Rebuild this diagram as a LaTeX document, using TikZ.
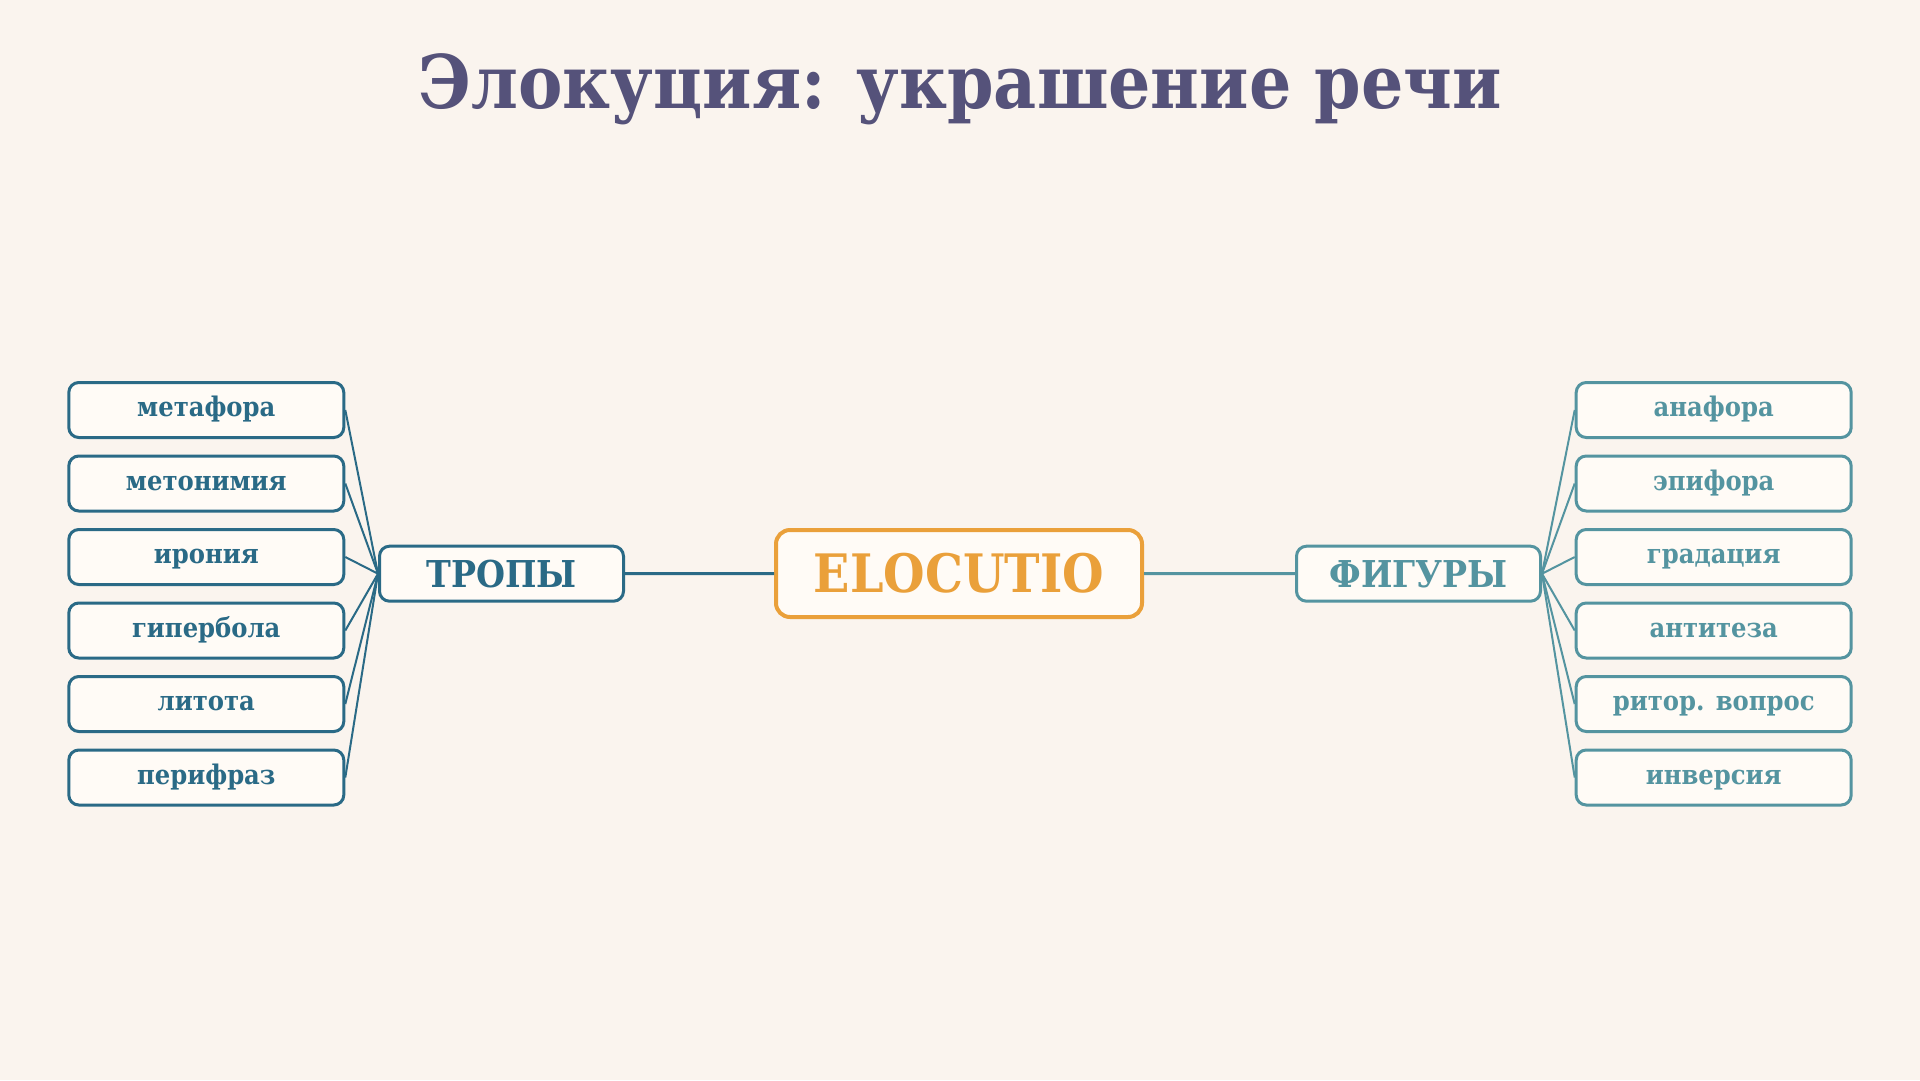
\documentclass[tikz,border=0pt]{standalone}
\usepackage{fontspec}
\setmainfont{DejaVu Serif Condensed}
\usetikzlibrary{calc}
\definecolor{bgcol}{HTML}{FAF4EE}
\definecolor{boxfill}{HTML}{FFFBF6}
\definecolor{titlecol}{HTML}{55527A}
\definecolor{tropcol}{HTML}{2A6A86}
\definecolor{figcol}{HTML}{5494A0}
\definecolor{elocol}{HTML}{EAA03A}
\tikzset{
  leaf/.style={draw,rounded corners=10pt,line width=3pt,fill=boxfill,
    minimum width=275pt,minimum height=55pt,inner sep=0pt,
    font=\bfseries\fontsize{27}{32}\selectfont,text height=18pt,text depth=5pt},
  branch/.style={leaf,minimum width=244pt,font=\bfseries\fontsize{37}{42}\selectfont,
    text height=27pt,text depth=0pt},
  root/.style={draw=elocol,text=elocol,rounded corners=14pt,line width=4pt,fill=boxfill,
    minimum width=366pt,minimum height=87pt,inner sep=0pt,
    font=\bfseries\fontsize{53}{60}\selectfont,text height=38pt,text depth=0pt},
  link/.style={line width=2pt}
}
\begin{document}
\begin{tikzpicture}[x=1pt,y=-1pt]
  \fill[bgcol] (0,0) rectangle (1920,1080);
  \useasboundingbox (0,0) rectangle (1920,1080);
  \node[anchor=base,text=titlecol,font=\bfseries\fontsize{74}{82}\selectfont] (title) at (960,108) {Элокуция: украшение речи};
  \node[root] (elocutio) at (959,573.5) {ELOCUTIO};
  \node[branch,draw=tropcol,text=tropcol] (tropy) at (501.5,573.7) {ТРОПЫ};
  \node[branch,draw=figcol,text=figcol] (figury) at (1418.5,573.7) {ФИГУРЫ};
  \draw[tropcol,line width=3pt] (tropy) -- (elocutio);
  \draw[figcol,line width=3pt] (elocutio) -- (figury);
  % tropes on the left
  \foreach \name [count=\i] in {метафора,метонимия,ирония,гипербола,литота,перифраз}{
    \node[leaf,draw=tropcol,text=tropcol] (trop\i) at (206.3,{410+73.5*(\i-1)}) {\name};
    \draw[link,tropcol] (trop\i.east) -- (tropy.west);
  }
  % figures on the right
  \foreach \name [count=\i] in {анафора,эпифора,градация,антитеза,ритор. вопрос,инверсия}{
    \node[leaf,draw=figcol,text=figcol] (fig\i) at (1713.7,{410+73.5*(\i-1)}) {\name};
    \draw[link,figcol] (fig\i.west) -- (figury.east);
  }
\end{tikzpicture}
\end{document}
